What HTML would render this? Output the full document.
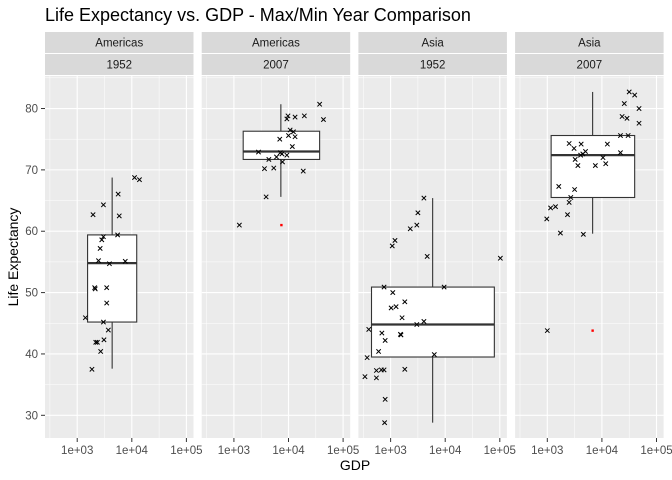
<!DOCTYPE html>
<html><head><meta charset="utf-8"><style>
body{margin:0;background:#fff;}
svg{display:block;font-family:"Liberation Sans",sans-serif;}
</style></head><body>
<svg id="chart" width="672" height="480" xmlns="http://www.w3.org/2000/svg">
<text x="45" y="21" font-size="18" fill="#000">Life Expectancy vs. GDP - Max/Min Year Comparison</text>
<text x="355" y="470" font-size="14" text-anchor="middle" fill="#000">GDP</text>
<text transform="translate(18,257) rotate(-90)" font-size="14" text-anchor="middle" fill="#000">Life Expectancy</text>
<g id="plots"></g>
</svg>
<script>
const facetContinents = ["Americas","Americas","Asia","Asia"];
const facetYears = ["1952","2007","1952","2007"];
const yTicks = [30,40,50,60,70,80];
const xTicks = [3,4,5];
const xTickLabels = ["1e+03","1e+04","1e+05"];
// points: [log10 gdp, lifeExp]
const pointsAm1952 = [[4.05,68.75],[4.14,68.4],[3.75,66.05],[3.48,64.3],[3.29,62.7],[3.77,62.5],[3.74,59.4],[3.48,59.1],[3.45,58.6],[3.42,57.2],[3.39,55.2],[3.59,54.7],[3.88,55.1],[3.32,50.8],[3.33,50.6],[3.54,50.8],[3.54,48.3],[3.15,45.9],[3.48,45.2],[3.57,43.9],[3.49,42.3],[3.34,41.9],[3.37,41.9],[3.43,40.4],[3.27,37.5]];
const pointsAm2007 = [[4.57,80.7],[4.64,78.2],[3.99,78.8],[3.97,78.3],[4.12,78.6],[4.29,78.8],[4.03,76.5],[4.09,76.2],[4.0,75.6],[4.12,75.4],[3.84,75.0],[4.07,73.8],[3.45,72.9],[3.85,72.8],[3.88,72.6],[3.97,72.4],[3.78,72.1],[3.64,71.7],[3.89,71.3],[3.56,70.2],[3.73,70.3],[4.27,69.8],[3.59,65.6],[3.10,61.0]];
const pointsAs1952 = [[3.61,65.4],[3.50,63.0],[3.48,61.0],[3.36,60.4],[3.08,58.5],[3.03,57.6],[3.67,55.9],[5.01,55.6],[2.88,50.9],[3.98,50.9],[3.04,50.0],[3.26,48.5],[3.01,47.5],[3.10,47.7],[3.21,45.9],[3.48,44.8],[3.61,45.3],[2.60,44.0],[2.84,43.4],[2.90,42.2],[3.18,43.2],[3.19,43.1],[2.78,40.4],[3.80,39.9],[2.57,39.4],[2.74,37.3],[2.83,37.4],[2.88,37.4],[3.26,37.5],[2.53,36.3],[2.74,36.1],[2.90,32.6],[2.89,28.8]];
const pointsAs2007 = [[4.50,82.7],[4.60,82.2],[4.41,80.8],[4.68,80.0],[4.37,78.7],[4.46,78.4],[4.68,77.6],[4.34,75.6],[4.48,75.6],[3.40,74.3],[3.62,74.2],[4.10,74.2],[3.49,73.5],[3.70,73.0],[3.61,72.4],[3.65,72.6],[4.34,72.8],[4.02,72.0],[3.51,71.7],[4.07,71.0],[3.56,70.7],[3.88,70.7],[3.21,67.3],[3.50,66.8],[3.43,65.5],[3.40,64.7],[3.15,64.0],[3.06,63.8],[3.37,62.7],[2.99,62.0],[3.24,59.7],[3.66,59.5],[3.00,43.8]];
// box stats: [xmin, xmax, xmid, lowerWhisker, q1, median, q3, upperWhisker]
const boxAm1952 = [3.19,4.09,3.64,37.6,45.2,54.8,59.4,68.75];
const boxAm2007 = [3.17,4.57,3.86,65.6,71.7,73.0,76.3,80.7];
const boxAs1952 = [2.65,4.90,3.77,28.8,39.5,44.8,50.9,65.4];
const boxAs2007 = [3.07,4.60,3.83,59.6,65.5,72.4,75.6,82.7];
// outliers: [log10 gdp, lifeExp]
const outliersAm2007 = [[3.87,61.0]];
const outliersAs2007 = [[3.83,43.8]];

const facetPoints = [pointsAm1952,pointsAm2007,pointsAs1952,pointsAs2007];
const facetBoxes = [boxAm1952,boxAm2007,boxAs1952,boxAs2007];
const facetOutliers = [[],outliersAm2007,[],outliersAs2007];

const NS="http://www.w3.org/2000/svg";
const root=document.getElementById('plots');
const PT=76, PB=438, PW=148.5, PSTEP=156.7, PL0=45;
const XMIN=2.41, XMAX=5.13, YMIN=26.3, YMAX=85.3;
function el(tag,attrs,parent){const e=document.createElementNS(NS,tag);for(const k in attrs)e.setAttribute(k,attrs[k]);(parent||root).appendChild(e);return e;}
function yScale(v){return PB-(v-YMIN)/(YMAX-YMIN)*(PB-PT);}
function xScaleFor(i){const l=PL0+i*PSTEP;return v=>l+(v-XMIN)/(XMAX-XMIN)*PW;}

// y axis
yTicks.forEach(t=>{
  const y=yScale(t);
  const tk=el('line',{x1:41,x2:45,y1:y,y2:y,stroke:'#333','stroke-width':1});
  
  
  const tx=el('text',{x:38,y:y+4,'font-size':11.5,'text-anchor':'end',fill:'#4d4d4d'});
  tx.textContent=t;
  
  
});

for(let i=0;i<4;i++){
  const l=PL0+i*PSTEP, xs=xScaleFor(i);
  const g=el('g',{});
  
  
  // strips
  const s1=el('rect',{x:l,y:32,width:PW,height:21,fill:'#d9d9d9'},g);
  
  
  const s2=el('rect',{x:l,y:54,width:PW,height:21,fill:'#d9d9d9'},g);
  
  
  const t1=el('text',{x:l+PW/2,y:46.5,'font-size':11.5,'text-anchor':'middle',fill:'#1a1a1a'},g);
  t1.textContent=facetContinents[i];
  
  
  const t2=el('text',{x:l+PW/2,y:68.5,'font-size':11.5,'text-anchor':'middle',fill:'#1a1a1a'},g);
  t2.textContent=facetYears[i];
  
  
  const bg=el('rect',{x:l,y:PT,width:PW,height:PB-PT,fill:'#ebebeb'},g);
  
  
  // minor grid
  for(let v=35;v<=85;v+=10){const y=yScale(v);el('line',{x1:l,x2:l+PW,y1:y,y2:y,stroke:'#fff','stroke-width':0.5},g);}
  [2.5,3.5,4.5].forEach(v=>{const x=xs(v);el('line',{x1:x,x2:x,y1:PT,y2:PB,stroke:'#fff','stroke-width':0.5},g);});
  yTicks.forEach(v=>{const y=yScale(v);el('line',{x1:l,x2:l+PW,y1:y,y2:y,stroke:'#fff','stroke-width':1.1},g);});
  xTicks.forEach((v,j)=>{const x=xs(v);el('line',{x1:x,x2:x,y1:PT,y2:PB,stroke:'#fff','stroke-width':1.1},g);
    const tk=el('line',{x1:x,x2:x,y1:PB,y2:PB+4,stroke:'#333','stroke-width':1},g);
    
    
    const tx=el('text',{x:x,y:PB+16,'font-size':11.5,'text-anchor':'middle',fill:'#4d4d4d'},g);
    tx.textContent=xTickLabels[j];
    
    
  });
  // boxplot
  const b=facetBoxes[i];
  const bx=el('g',{},g);
  
  
  const wx=xs(b[2]);
  el('line',{x1:wx,x2:wx,y1:yScale(b[7]),y2:yScale(b[6]),stroke:'#333','stroke-width':1.1},bx);
  el('line',{x1:wx,x2:wx,y1:yScale(b[4]),y2:yScale(b[3]),stroke:'#333','stroke-width':1.1},bx);
  el('rect',{x:xs(b[0]),y:yScale(b[6]),width:xs(b[1])-xs(b[0]),height:yScale(b[4])-yScale(b[6]),fill:'#fff',stroke:'#333','stroke-width':1.1},bx);
  el('line',{x1:xs(b[0]),x2:xs(b[1]),y1:yScale(b[5]),y2:yScale(b[5]),stroke:'#333','stroke-width':2.2},bx);
  facetOutliers[i].forEach(p=>{
    const o=el('rect',{x:xs(p[0])-1.2,y:yScale(p[1])-1.2,width:2.4,height:2.4,fill:'red'},g);
    
    
  });
  facetPoints[i].forEach(p=>{
    const x=xs(p[0]),y=yScale(p[1]),r=2.2;
    const pg=el('path',{d:`M${x-r},${y-r}L${x+r},${y+r}M${x-r},${y+r}L${x+r},${y-r}`,stroke:'#000','stroke-width':1},g);
    
    
  });
}
</script>
</body></html>
